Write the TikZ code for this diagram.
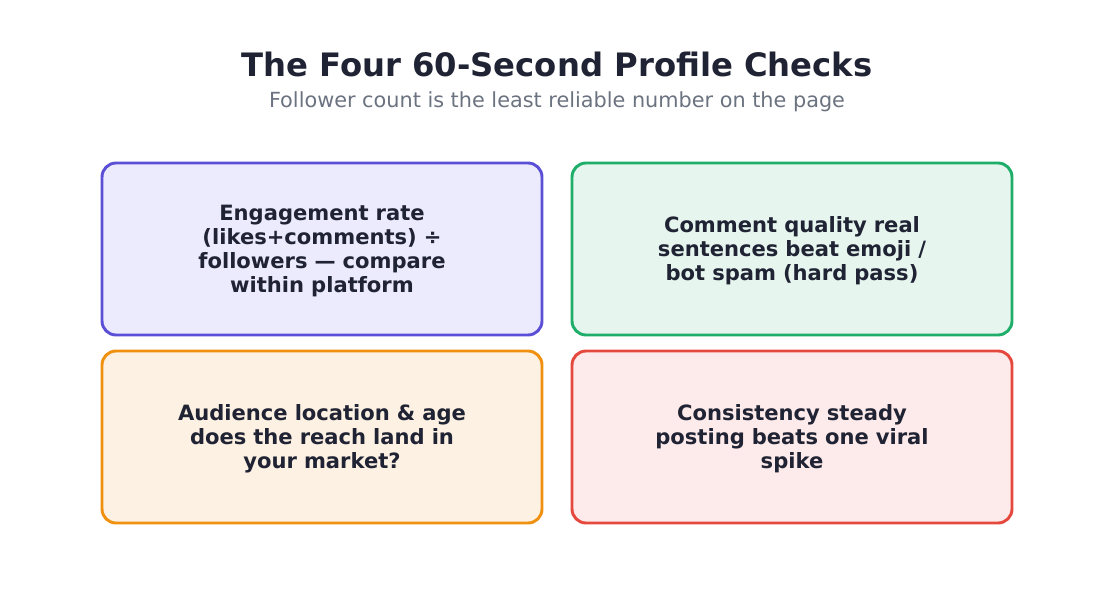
\documentclass[tikz,border=0pt]{standalone}
\usepackage{fontspec}
\setmainfont{DejaVu Sans}
\definecolor{ink}{HTML}{1F2333}
\definecolor{sub}{HTML}{6B7280}
\definecolor{pB}{HTML}{5B4FD6}\definecolor{pF}{HTML}{ECEBFD}
\definecolor{gB}{HTML}{1FAE6A}\definecolor{gF}{HTML}{E6F5EE}
\definecolor{oB}{HTML}{F0900F}\definecolor{oF}{HTML}{FDF1E3}
\definecolor{rB}{HTML}{E5483D}\definecolor{rF}{HTML}{FDEAEA}
\begin{document}
\begin{tikzpicture}[x=0.75pt,y=-0.75pt,
  card/.style={draw=#1B,fill=#1F,line width=2.2pt,rounded corners=10.5pt,minimum width=330pt,minimum height=129pt,inner sep=0pt},
  txt/.style={text=ink,font=\bfseries\fontsize{15.8}{18}\selectfont,align=center,text width=260pt}]
\useasboundingbox (0,0) rectangle (1114,599);
\node[text=ink,font=\bfseries\fontsize{24.2}{29}\selectfont] (title) at (557,64) {The Four 60-Second Profile Checks};
\node[text=sub,font=\fontsize{15.6}{18}\selectfont] (subt) at (557,102) {Follower count is the least reliable number on the page};
\node[card=p] (c1) at (322,249) {};
\node[card=g] (c2) at (792,249) {};
\node[card=o] (c3) at (322,437) {};
\node[card=r] (c4) at (792,437) {};
\node[txt] (t1) at ([yshift=-1.5pt]c1.center) {Engagement rate\\(likes+comments) ÷\\followers — compare\\within platform};
\node[txt] (t2) at ([yshift=-1.5pt]c2.center) {Comment quality real\\sentences beat emoji /\\bot spam (hard pass)};
\node[txt] (t3) at ([yshift=-1.5pt]c3.center) {Audience location \& age\\does the reach land in\\your market?};
\node[txt] (t4) at ([yshift=-1.5pt]c4.center) {Consistency steady\\posting beats one viral\\spike};
\end{tikzpicture}
\end{document}
